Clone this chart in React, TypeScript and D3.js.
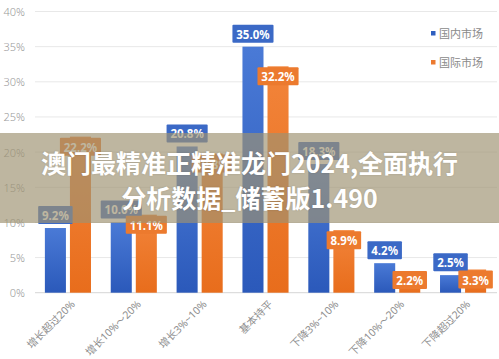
import React from "react";
import * as d3 from "d3";

const categories = ["增长超过20%", "增长10%～20%", "增长3%~10%", "基本持平", "下降3%~10%", "下降10%～20%", "下降超过20%"];
const domestic = [9.2, 10.0, 20.8, 35.0, 18.3, 4.2, 2.5];
const international = [22.2, 11.1, 19.8, 32.2, 8.9, 2.2, 3.3];
const seriesNames = ["国内市场", "国际市场"];
const yTicks = [0, 5, 10, 15, 20, 25, 30, 35, 40];
const titleLines = ["澳门最精准正精准龙门2024,全面执行", "分析数据_储蓄版1.490"];

const W = 499;
const H = 359;

export default function App() {
  const x = d3.scaleBand<string>().domain(categories).range([35, 496]).paddingInner(0.3).paddingOuter(0.15);
  const inner = d3.scaleBand<string>().domain(["d", "i"]).range([0, x.bandwidth()]).paddingInner(0.16);
  const y = d3.scaleLinear().domain([0, 40]).range([292.7, 11.5]);

  const labelW = (t: string) => {
    let w = 0;
    for (const ch of t) w += ch === "." ? 3.3 : ch === "%" ? 10 : 6.6;
    return w + 8;
  };

  const font = "'Noto Sans', 'Noto Sans CJK SC', sans-serif";

  return (
    <>
      <style>{`body{margin:0;background:#fff}`}</style>
      <svg width={W} height={H} style={{ display: "block" }}>
        <defs>
          <linearGradient id="gBlue" x1="0" y1="0" x2="0" y2="1">
            <stop offset="0" stopColor="#4a7ad6" />
            <stop offset="1" stopColor="#2b59ba" />
          </linearGradient>
          <linearGradient id="gOrange" x1="0" y1="0" x2="0" y2="1">
            <stop offset="0" stopColor="#f2843a" />
            <stop offset="1" stopColor="#e86d1c" />
          </linearGradient>
        </defs>
        <rect width={W} height={H} fill="#fff" />
        {yTicks.map((t) => (
          <g key={t}>
            <line x1={35} x2={497} y1={y(t)} y2={y(t)} stroke={t === 0 ? "#d6d6d6" : "#e8e8e8"} strokeWidth={1} />
            <text x={25} y={y(t)} textAnchor="end" dominantBaseline="central" fontFamily={font} fontSize={11} fill="#9a9a9a" fontWeight={300}>
              {t}%
            </text>
          </g>
        ))}
        {categories.map((c, i) => {
          const x0 = x(c)!;
          const bars = [
            { v: domestic[i], k: "d", fill: "url(#gBlue)", box: "#3b69c6" },
            { v: international[i], k: "i", fill: "url(#gOrange)", box: "#ec7a2e" },
          ];
          return (
            <g key={c}>
              {bars.map((b) => {
                const bx = x0 + inner(b.k)!;
                const top = y(b.v);
                return (
                  <rect key={b.k} x={bx} y={top} width={inner.bandwidth()} height={y(0) - top} fill={b.fill} />
                );
              })}
              {bars.map((b) => {
                const bx = x0 + inner(b.k)! + inner.bandwidth() / 2;
                const top = y(b.v);
                const t = b.v.toFixed(1) + "%";
                const w = labelW(t);
                const h = 18;
                const by = b.k === "d" ? top - 4 - h : Math.min(top + 1, 271);
                return (
                  <g key={"l" + b.k}>
                    <rect x={bx - w / 2} y={by} width={w} height={h} fill={b.box} rx={1} />
                    <text x={bx} y={by + h / 2 + 0.5} textAnchor="middle" dominantBaseline="central" fontFamily={font} fontWeight={700} fontSize={11.5} fill="#fff">
                      {t}
                    </text>
                  </g>
                );
              })}
              <text
                transform={`translate(${x0 + x.bandwidth() / 2 + 5},${302}) rotate(-45)`}
                textAnchor="end"
                dominantBaseline="central"
                fontFamily={font}
                fontSize={10.5}
                fill="#8f8f8f"
              >
                {c}
              </text>
            </g>
          );
        })}
        {seriesNames.map((s, i) => (
          <g key={s}>
            <rect x={431} y={31 + i * 29} width={4.5} height={4.5} fill={i === 0 ? "#2f5fbf" : "#ec7a30"} />
            <text x={439} y={33.3 + i * 29} dominantBaseline="central" fontFamily={font} fontSize={11} fill="#8a8a8a">
              {s}
            </text>
          </g>
        ))}
        <rect x={0} y={133} width={W} height={90} fill="rgb(158,146,113)" fillOpacity={0.67} />
        {titleLines.map((l, i) => (
          <text
            key={i}
            x={W / 2}
            y={162 + i * 35}
            textAnchor="middle"
            dominantBaseline="central"
            fontFamily="'Noto Sans CJK SC', sans-serif"
            fontWeight={700}
            fontSize={25}
            fill="#fff"
            style={{ textShadow: "0 0 2px rgba(0,0,0,0.15)" }}
          >
            {l}
          </text>
        ))}
      </svg>
    </>
  );
}
